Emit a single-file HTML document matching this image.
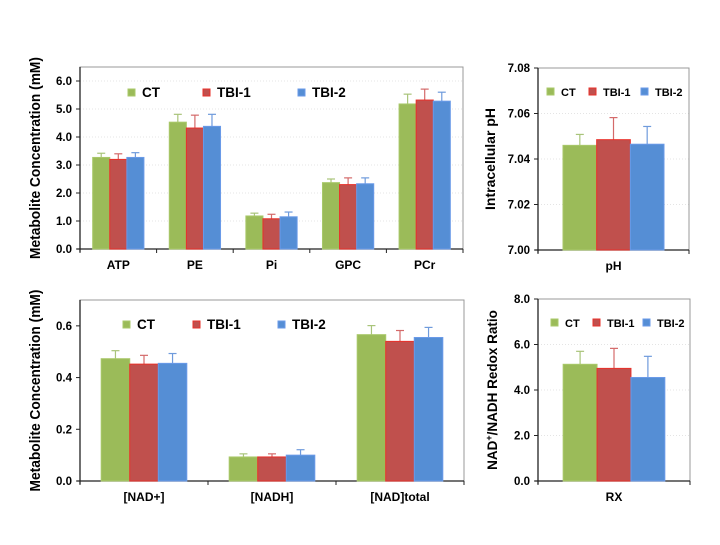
<!DOCTYPE html>
<html><head><meta charset="utf-8"><style>
body{margin:0;background:#fff;width:720px;height:540px;overflow:hidden}
svg{font-family:"Liberation Sans",Arial,sans-serif;font-weight:bold}
</style></head><body>
<svg id="s" width="720" height="540"></svg>
<script>
const series = ["CT","TBI-1","TBI-2"];
const fills = ["#9BBB59","#C0504D","#558ED5"];
const strokes = ["#a9c86a","#e8302a","#6a9ae8"];
const errCols = ["#a9c47a","#d46a6a","#6f9bdc"];

const catsA = ["ATP","PE","Pi","GPC","PCr"];
const valsA = [[3.27,4.53,1.18,2.37,5.18],[3.20,4.32,1.08,2.30,5.32],[3.27,4.38,1.15,2.33,5.28]];
const errsA = [[0.15,0.28,0.10,0.13,0.35],[0.20,0.46,0.16,0.24,0.39],[0.17,0.43,0.17,0.21,0.32]];
const ticksA = [0,1,2,3,4,5,6];

const catsB = ["pH"];
const valsB = [[7.046],[7.0485],[7.0465]];
const errsB = [[0.0048],[0.0097],[0.0078]];
const ticksB = [7.00,7.02,7.04,7.06,7.08];

const catsC = ["[NAD+]","[NADH]","[NAD]total"];
const valsC = [[0.473,0.093,0.566],[0.452,0.093,0.540],[0.455,0.100,0.555]];
const errsC = [[0.031,0.012,0.035],[0.034,0.012,0.042],[0.038,0.021,0.039]];
const ticksC = [0,0.2,0.4,0.6];

const catsD = ["RX"];
const valsD = [[5.13],[4.95],[4.55]];
const errsD = [[0.57],[0.88],[0.93]];
const ticksD = [0,2,4,6,8];

const NS="http://www.w3.org/2000/svg";
const svg=document.getElementById('s');
function mk(tag,attrs,parent){const e=document.createElementNS(NS,tag);for(const k in attrs)e.setAttribute(k,attrs[k]);(parent||svg).appendChild(e);return e;}

function chart(name,cfg){
  const g=mk('g',{});
  
  
  const {x0,x1,y0,y1,min,max,cats,vals,errs,ticks,dec,title,tx,legX,legY,tsize,grid,tfs,tlen}=cfg;
  const ys=v=>y1-(v-min)/(max-min)*(y1-y0);
  const slot=(x1-x0)/cats.length;
  const bw=slot*0.223;
  if(grid){ticks.forEach(t=>{if(t===min)return;const l=mk('line',{x1:x0,x2:x1,y1:ys(t),y2:ys(t),stroke:'#e4e4e4','stroke-dasharray':'1,2'},g);
    
    });}
  const frame=mk('rect',{x:x0,y:y0,width:x1-x0,height:y1-y0,fill:'none',stroke:'#999','stroke-width':1},g);
  
  
  mk('line',{x1:x0,x2:x0,y1:y0,y2:y1+3,stroke:'#222','stroke-width':1.3},g);
  mk('line',{x1:x0-3,x2:x1,y1:y1,y2:y1,stroke:'#222','stroke-width':1.3},g);
  ticks.forEach(t=>{
    mk('line',{x1:x0-4,x2:x0,y1:ys(t),y2:ys(t),stroke:'#222'},g);
    const tl=mk('text',{x:x0-8,y:ys(t)+4,'text-anchor':'end','font-size':11.5},g);
    tl.textContent=t.toFixed(dec);
    
    
  });
  for(let i=0;i<=cats.length;i++)mk('line',{x1:x0+i*slot,x2:x0+i*slot,y1:y1,y2:y1+4,stroke:'#222'},g);
  cats.forEach((c,ci)=>{
    const cx=x0+slot*(ci+0.5);
    const cl=mk('text',{x:cx,y:y1+20,'text-anchor':'middle','font-size':12},g);
    cl.textContent=c;
    
    
    series.forEach((s,si)=>{
      const v=vals[si][ci],e=errs[si][ci];
      const bx=cx-1.5*bw+si*bw;
      const top=ys(v);
      const eb=mk('line',{x1:bx+bw/2,x2:bx+bw/2,y1:top,y2:ys(v+e),stroke:errCols[si],'stroke-width':1.2},g);
      
      
      mk('line',{x1:bx+bw/2-4,x2:bx+bw/2+4,y1:ys(v+e),y2:ys(v+e),stroke:errCols[si],'stroke-width':1.2},g);
      const r=mk('rect',{x:bx,y:top,width:bw,height:y1-top,fill:fills[si],stroke:strokes[si],'stroke-width':1},g);
      
      
    });
  });
  series.forEach((s,si)=>{
    const lx=legX[si];
    const sq=mk('rect',{x:lx,y:legY-4,width:7,height:7,fill:fills[si],stroke:strokes[si]},g);
    
    
    const lt=mk('text',{x:lx+14,y:legY+4,'font-size':tsize},g);
    lt.textContent=s;
    
    
  });
  const at={x:0,y:0,'text-anchor':'middle','font-size':tfs,transform:`translate(${tx},${(y0+y1)/2}) rotate(-90)`};
  if(tlen){at.textLength=tlen;at.lengthAdjust='spacingAndGlyphs';}
  const yt=mk('text',at,g);
  yt.innerHTML=title;
  
  
}
chart('chart-metabolites',{x0:80,x1:463,y0:67,y1:249,min:0,max:6.5,cats:catsA,vals:valsA,errs:errsA,ticks:ticksA,dec:1,title:'Metabolite Concentration (mM)',tx:40,legX:[128,203,298],legY:93,tsize:13.5,grid:true,tfs:14.5,tlen:202});
chart('chart-ph',{x0:538,x1:689,y0:68,y1:250,min:7.0,max:7.08,cats:catsB,vals:valsB,errs:errsB,ticks:ticksB,dec:2,title:'Intracellular pH',tx:495,legX:[547,589,641],legY:92,tsize:11,grid:true,tfs:14});
chart('chart-nad',{x0:80,x1:464,y0:300,y1:481,min:0,max:0.7,cats:catsC,vals:valsC,errs:errsC,ticks:ticksC,dec:1,title:'Metabolite Concentration (mM)',tx:40,legX:[123,193,278],legY:325,tsize:13.5,grid:false,tfs:14.5,tlen:202});
chart('chart-redox',{x0:538,x1:690,y0:299,y1:481,min:0,max:8,cats:catsD,vals:valsD,errs:errsD,ticks:ticksD,dec:1,title:'NAD<tspan font-size="9" dy="-5">+</tspan><tspan dy="5">/NADH Redox Ratio</tspan>',tx:497,legX:[551,593,643],legY:323,tsize:11,grid:true,tfs:13.5});
</script>
</body></html>
